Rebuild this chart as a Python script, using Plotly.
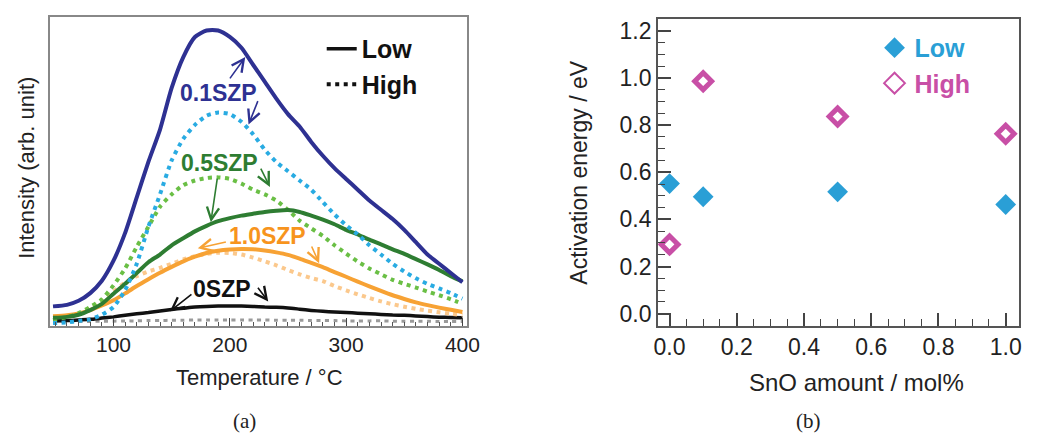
import plotly.graph_objects as go

# ---------------- Panel (a) data ----------------
temp = [48, 60, 70, 80, 90, 100, 110, 120, 130, 140, 150, 160, 170, 180, 190, 200,
        210, 220, 230, 240, 250, 260, 270, 280, 290, 300, 310, 320, 330, 340, 350,
        360, 370, 380, 390, 400]

low_01 = [6.2, 6.7, 8, 10.5, 14.5, 21, 30, 41.5, 53, 63.5, 77, 87, 93.5, 95.6, 95.6, 93.5,
          90, 84.5, 79, 73.5, 68.5, 64.5, 59.5, 55, 51, 47.5, 44, 40.5, 37.5, 34.5, 31,
          27, 23, 20, 17, 14]
high_01 = [0.8, 1, 1.5, 2, 3.5, 6, 11.5, 20, 32, 42.5, 53.5, 60.5, 65, 68, 69, 68.5,
           66, 62, 57, 53, 50, 47, 44, 40, 36, 32.5, 29.5, 26, 23, 20, 17.5,
           15.3, 13.5, 12, 10.5, 8.7]
low_05 = [2.5, 2.8, 3.5, 5, 7, 10.3, 13.5, 17, 20.5, 23, 26, 28.3, 30.5, 32.3, 33.8, 34.8,
          35.6, 36.2, 36.8, 37.2, 37.4, 36.8, 35.6, 34.3, 32.8, 31, 29.5, 27.8, 26.3, 24.7, 23.2,
          21.5, 19.8, 18, 16, 14.3]
high_05 = [1.8, 2.7, 4, 6, 8.5, 13, 18.5, 25.5, 32, 38.5, 42.5, 45.5, 47, 47.8, 48, 47.5,
           46, 44, 42.5, 40.5, 37.5, 34, 31.5, 29, 26, 23.3, 20.7, 18.5, 16.6, 14.8, 13.5,
           12.3, 11, 9.8, 8.5, 7]
low_10 = [3, 3.3, 3.9, 5, 6.5, 8.2, 10.4, 12.8, 15, 17.1, 19, 20.8, 22.3, 23.5, 24.2, 24.6,
          24.8, 24.7, 24.3, 23.7, 22.9, 21.7, 20.3, 18.9, 17.3, 15.8, 14.2, 12.7, 11.2, 9.8, 8.6,
          7.5, 6.6, 5.8, 5.1, 4.4]
high_10 = [2.5, 3, 3.8, 5.5, 8, 11, 14, 16, 17.5, 18.7, 20, 21.4, 22.5, 23.2, 23.6, 23.5,
           23, 22, 20.8, 19.5, 18, 16.6, 15.4, 14.4, 12.8, 11.4, 10.1, 8.9, 7.8, 6.9, 6.1,
           5.4, 4.8, 4.3, 3.8, 3.4]
low_00 = [1.5, 1.6, 1.8, 2, 2.4, 2.8, 3.3, 3.8, 4.2, 4.7, 5.2, 5.6, 6, 6.2, 6.3, 6.3,
          6.3, 6.2, 6, 5.9, 5.7, 5.3, 4.9, 4.6, 4.4, 4.2, 4, 3.8, 3.6, 3.4, 3.3,
          3.1, 2.9, 2.7, 2.6, 2.5]
high_00 = [1.2, 1.2, 1.3, 1.3, 1.4, 1.4, 1.5, 1.5, 1.6, 1.6, 1.7, 1.7, 1.8, 1.8, 1.8, 1.8,
           1.8, 1.8, 1.8, 1.7, 1.7, 1.7, 1.6, 1.6, 1.6, 1.5, 1.5, 1.5, 1.5, 1.4, 1.4,
           1.4, 1.4, 1.3, 1.3, 1.3]

temp_ticks = [100, 200, 300, 400]

# ---------------- Panel (b) data ----------------
sno = [0.0, 0.1, 0.5, 1.0]
ea_low = [0.552, 0.496, 0.517, 0.463]
ea_high = [0.294, 0.986, 0.836, 0.763]
ea_ticks = [0.0, 0.2, 0.4, 0.6, 0.8, 1.0, 1.2]
sno_ticks = [0.0, 0.2, 0.4, 0.6, 0.8, 1.0]

NAVY = "#2e3192"
LBLUE = "#29abe2"
DGREEN = "#2e7d32"
LGREEN = "#6abf45"
ORANGE = "#f7a234"
LORANGE = "#fbc88c"
BLUE_B = "#2a9fd6"
MAG = "#c84fa6"
FONT = "Liberation Sans, Arial, sans-serif"

fig = go.Figure()

def curve(y, color, width, dash=None):
    fig.add_trace(go.Scatter(x=temp, y=y, mode="lines", showlegend=False,
                             line=dict(color=color, width=width, dash=dash, shape="spline", smoothing=0.6),
                             xaxis="x", yaxis="y", hoverinfo="skip"))

DOT = "4px,4.5px"
curve(high_00, "#9a9a9a", 3, DOT)
curve(low_00, "#111111", 3.5)
curve(high_10, LORANGE, 4, DOT)
curve(low_10, ORANGE, 4)
curve(high_05, LGREEN, 4, DOT)
curve(low_05, DGREEN, 4)
curve(high_01, LBLUE, 4, DOT)
curve(low_01, NAVY, 4)

# legend entries for panel (a)
fig.add_trace(go.Scatter(x=[None], y=[None], mode="lines", name="<b>Low</b>",
                         line=dict(color="#111", width=3.5), xaxis="x", yaxis="y", legend="legend"))
fig.add_trace(go.Scatter(x=[None], y=[None], mode="lines", name="<b>High</b>",
                         line=dict(color="#111", width=4, dash=DOT), xaxis="x", yaxis="y", legend="legend"))

# panel (b)
fig.add_trace(go.Scatter(x=sno, y=ea_low, mode="markers", showlegend=False,
                         marker=dict(symbol="diamond", size=16, color=BLUE_B, line=dict(width=0)),
                         xaxis="x2", yaxis="y2"))
fig.add_trace(go.Scatter(x=sno, y=ea_high, mode="markers", showlegend=False,
                         marker=dict(symbol="diamond-open", size=13, color=MAG, line=dict(width=5, color=MAG)),
                         xaxis="x2", yaxis="y2"))
fig.add_trace(go.Scatter(x=[None], y=[None], mode="markers",
                         name="<b><span style='color:%s'>Low</span></b>" % BLUE_B,
                         marker=dict(symbol="diamond", size=17, color=BLUE_B),
                         xaxis="x2", yaxis="y2", legend="legend2"))
fig.add_trace(go.Scatter(x=[None], y=[None], mode="markers",
                         name="<b><span style='color:%s'>High</span></b>" % MAG,
                         marker=dict(symbol="diamond-open", size=17, color=MAG, line=dict(width=2, color=MAG)),
                         xaxis="x2", yaxis="y2", legend="legend2"))

W, H = 1040, 436
def px(x):
    return x / W
def py(y):
    return 1 - y / H

annotations = []
# series labels
labels = [("0.1SZP", 190.5, 75.4, NAVY), ("0.5SZP", 191.3, 52.5, DGREEN),
          ("1.0SZP", 232.8, 29.0, "#f7941d"), ("0SZP", 193.0, 11.9, "#111")]
for t, x, y, c in labels:
    annotations.append(dict(text="<b>%s</b>" % t, x=x, y=y, xref="x", yref="y", showarrow=False,
                            font=dict(family=FONT, size=23, color=c), xanchor="center", yanchor="middle"))
# arrows (tail -> head)
arrows = [((199.2, 79.6), (213.3, 87.0), NAVY), ((224.6, 73.2), (216.1, 65.1), NAVY),
          ((189.4, 48.1), (183.7, 33.5), DGREEN), ((226.0, 51.3), (234.5, 44.9), DGREEN),
          ((197.9, 27.2), (172.5, 25.0), ORANGE), ((269.8, 26.1), (276.8, 20.2), ORANGE),
          ((168.3, 10.5), (148.5, 4.6), "#111"), ((223.2, 12.7), (233.0, 7.8), "#111")]
for (tx, ty), (hx, hy), c in arrows:
    annotations.append(dict(text="", x=hx, y=hy, ax=tx, ay=ty, xref="x", yref="y", axref="x", ayref="y",
                            showarrow=True, arrowhead=5, arrowsize=1.5, arrowwidth=1.6, arrowcolor=c,
                            standoff=0, startstandoff=0))
# axis titles
annotations += [
    dict(text="Temperature / °C", x=px(260), y=py(378), xref="paper", yref="paper", showarrow=False,
         font=dict(family=FONT, size=22, color="#222"), xanchor="center", yanchor="middle"),
    dict(text="Intensity (arb. unit)", x=px(23), y=py(168), xref="paper", yref="paper", showarrow=False,
         textangle=-90, font=dict(family=FONT, size=22, color="#222"), xanchor="center", yanchor="middle"),
    dict(text="Activation energy / eV", x=px(585), y=py(172), xref="paper", yref="paper", showarrow=False,
         textangle=-90, font=dict(family=FONT, size=23, color="#222"), xanchor="center", yanchor="middle"),
    dict(text="SnO amount / mol%", x=px(867), y=py(383), xref="paper", yref="paper", showarrow=False,
         font=dict(family=FONT, size=24, color="#222"), xanchor="center", yanchor="middle"),
    dict(text="(a)", x=px(244), y=py(422), xref="paper", yref="paper", showarrow=False,
         font=dict(family="Liberation Serif, Times New Roman, serif", size=21, color="#222"),
         xanchor="center", yanchor="middle"),
    dict(text="(b)", x=px(818), y=py(422), xref="paper", yref="paper", showarrow=False,
         font=dict(family="Liberation Serif, Times New Roman, serif", size=21, color="#222"),
         xanchor="center", yanchor="middle"),
]

fig.update_layout(
    width=W, height=H, autosize=False, margin=dict(l=0, r=0, t=0, b=0, pad=0),
    paper_bgcolor="white", plot_bgcolor="white",
    font=dict(family=FONT, color="#222"),
    xaxis=dict(domain=[px(47), px(471)], range=[45.6, 404.2], tickvals=temp_ticks,
               ticks="inside", ticklen=8, tickwidth=1.2, tickcolor="#444",
               minor=dict(dtick=10, tick0=0, ticks="inside", ticklen=4, tickcolor="#555", tickwidth=1),
               showline=True, linecolor="#888", linewidth=1.5, mirror=True, showgrid=False, zeroline=False,
               tickfont=dict(family=FONT, size=21, color="#222"), anchor="y"),
    yaxis=dict(domain=[py(326), py(16)], range=[0, 100], showticklabels=False, ticks="",
               showline=True, linecolor="#888", linewidth=1.5, mirror=True, showgrid=False, zeroline=False,
               anchor="x"),
    xaxis2=dict(domain=[px(665), px(1032)], range=[-0.034, 1.04], tickvals=sno_ticks,
                ticktext=["%.1f" % v for v in sno_ticks],
                ticks="inside", ticklen=13, tickwidth=1.5, tickcolor="#444",
                minor=dict(dtick=0.05, tick0=0, ticks="inside", ticklen=7, tickcolor="#444", tickwidth=1.3),
                showline=True, linecolor="#555", linewidth=2, mirror=True, showgrid=False, zeroline=False,
                tickfont=dict(family=FONT, size=23, color="#222"), anchor="y2"),
    yaxis2=dict(domain=[py(326), py(18)], range=[-0.05, 1.25], tickvals=ea_ticks,
                ticktext=["%.1f" % v for v in ea_ticks],
                ticks="inside", ticklen=13, tickwidth=1.5, tickcolor="#444",
                minor=dict(dtick=0.05, tick0=0, ticks="inside", ticklen=7, tickcolor="#444", tickwidth=1.3),
                showline=True, linecolor="#555", linewidth=2, mirror=True, showgrid=False, zeroline=False,
                tickfont=dict(family=FONT, size=23, color="#222"), anchor="x2"),
    legend=dict(x=px(323), y=py(25), xanchor="left", yanchor="top", bgcolor="rgba(0,0,0,0)",
                font=dict(family=FONT, size=25, color="#111"), tracegroupgap=0),
    legend2=dict(x=px(885), y=py(24), xanchor="left", yanchor="top", bgcolor="rgba(0,0,0,0)",
                 font=dict(family=FONT, size=25), tracegroupgap=0),
    annotations=annotations,
)

fig.write_html("out.html",
               config={"responsive": False, "displayModeBar": False},
               post_script="document.documentElement.style.overflow='hidden';"
                           "document.body.style.margin='0';document.body.style.padding='0';"
                           "document.body.style.overflow='hidden';")
